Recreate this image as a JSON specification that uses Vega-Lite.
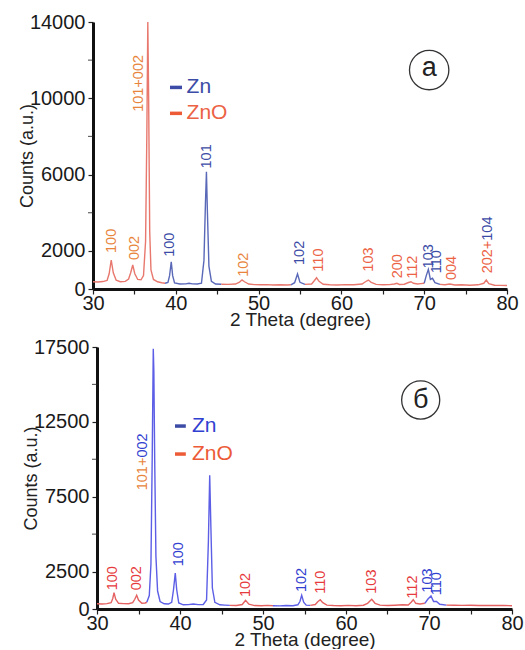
{
  "$schema": "https://vega.github.io/schema/vega-lite/v6.json",
  "padding": {"left": 18, "top": 12, "right": 0, "bottom": 0},
  "spacing": 8,
  "background": "white",
  "config": {
    "font": "Liberation Sans",
    "view": {"stroke": null},
    "axis": {"grid": false, "domainColor": "#111", "domainWidth": 3, "tickColor": "#222", "tickWidth": 1.2, "tickSize": 5,
      "labelFontSize": 20, "labelColor": "#1a1a1a", "labelFont": "Liberation Sans", "titleFont": "Liberation Sans",
      "titleFontSize": 19, "titleFontWeight": "normal", "titleColor": "#222", "labelFlush": false},
    "axisX": {"labelPadding": -1, "titlePadding": -3},
    "axisY": {"labelPadding": 3, "titlePadding": -7, "titleFontSize": 18}
  },
  "datasets": {
    "specA": [
      {"x":30.0,"y":380,"seg":"a1","ph":"ZnO"},{"x":30.6,"y":370,"seg":"a1","ph":"ZnO"},{"x":31.2,"y":390,"seg":"a1","ph":"ZnO"},
      {"x":31.7,"y":450,"seg":"a1","ph":"ZnO"},{"x":31.95,"y":800,"seg":"a1","ph":"ZnO"},{"x":32.2,"y":1520,"seg":"a1","ph":"ZnO"},
      {"x":32.45,"y":850,"seg":"a1","ph":"ZnO"},{"x":32.8,"y":460,"seg":"a1","ph":"ZnO"},{"x":33.3,"y":380,"seg":"a1","ph":"ZnO"},
      {"x":33.9,"y":400,"seg":"a1","ph":"ZnO"},{"x":34.3,"y":520,"seg":"a1","ph":"ZnO"},{"x":34.55,"y":850,"seg":"a1","ph":"ZnO"},
      {"x":34.8,"y":1260,"seg":"a1","ph":"ZnO"},{"x":35.05,"y":800,"seg":"a1","ph":"ZnO"},{"x":35.4,"y":500,"seg":"a1","ph":"ZnO"},
      {"x":35.8,"y":480,"seg":"a1","ph":"ZnO"},{"x":36.1,"y":700,"seg":"a1","ph":"ZnO"},{"x":36.35,"y":2500,"seg":"a1","ph":"ZnO"},
      {"x":36.5,"y":8000,"seg":"a1","ph":"ZnO"},{"x":36.62,"y":14000,"seg":"a1","ph":"ZnO"},{"x":36.72,"y":10000,"seg":"a1","ph":"ZnO"},
      {"x":36.85,"y":3000,"seg":"a1","ph":"ZnO"},{"x":37.0,"y":1000,"seg":"a1","ph":"ZnO"},{"x":37.3,"y":500,"seg":"a1","ph":"ZnO"},
      {"x":37.8,"y":380,"seg":"a1","ph":"ZnO"},{"x":38.3,"y":330,"seg":"a1","ph":"ZnO"},{"x":38.7,"y":300,"seg":"a1","ph":"ZnO"},
      {"x":38.7,"y":300,"seg":"a2","ph":"Zn"},{"x":39.05,"y":340,"seg":"a2","ph":"Zn"},{"x":39.25,"y":700,"seg":"a2","ph":"Zn"},
      {"x":39.45,"y":1430,"seg":"a2","ph":"Zn"},{"x":39.62,"y":700,"seg":"a2","ph":"Zn"},{"x":39.85,"y":320,"seg":"a2","ph":"Zn"},
      {"x":40.5,"y":260,"seg":"a2","ph":"Zn"},{"x":41.2,"y":270,"seg":"a2","ph":"Zn"},{"x":41.6,"y":300,"seg":"a2","ph":"Zn"},
      {"x":42.0,"y":270,"seg":"a2","ph":"Zn"},{"x":42.6,"y":260,"seg":"a2","ph":"Zn"},{"x":43.1,"y":300,"seg":"a2","ph":"Zn"},
      {"x":43.4,"y":1500,"seg":"a2","ph":"Zn"},{"x":43.58,"y":4500,"seg":"a2","ph":"Zn"},{"x":43.7,"y":6150,"seg":"a2","ph":"Zn"},
      {"x":43.82,"y":4000,"seg":"a2","ph":"Zn"},{"x":44.0,"y":1200,"seg":"a2","ph":"Zn"},{"x":44.3,"y":400,"seg":"a2","ph":"Zn"},
      {"x":44.8,"y":260,"seg":"a2","ph":"Zn"},{"x":45.5,"y":250,"seg":"a2","ph":"Zn"},
      {"x":45.5,"y":250,"seg":"a3","ph":"ZnO"},{"x":46.3,"y":240,"seg":"a3","ph":"ZnO"},{"x":47.2,"y":260,"seg":"a3","ph":"ZnO"},
      {"x":47.7,"y":360,"seg":"a3","ph":"ZnO"},{"x":48.0,"y":480,"seg":"a3","ph":"ZnO"},{"x":48.3,"y":380,"seg":"a3","ph":"ZnO"},
      {"x":48.8,"y":260,"seg":"a3","ph":"ZnO"},{"x":49.5,"y":230,"seg":"a3","ph":"ZnO"},{"x":50.2,"y":220,"seg":"a3","ph":"ZnO"},
      {"x":51.0,"y":230,"seg":"a3","ph":"ZnO"},{"x":51.8,"y":210,"seg":"a3","ph":"ZnO"},{"x":52.6,"y":220,"seg":"a3","ph":"ZnO"},
      {"x":53.4,"y":210,"seg":"a3","ph":"ZnO"},{"x":53.9,"y":220,"seg":"a3","ph":"ZnO"},
      {"x":53.9,"y":220,"seg":"a4","ph":"Zn"},{"x":54.35,"y":330,"seg":"a4","ph":"Zn"},{"x":54.7,"y":790,"seg":"a4","ph":"Zn"},
      {"x":55.0,"y":350,"seg":"a4","ph":"Zn"},{"x":55.6,"y":240,"seg":"a4","ph":"Zn"},
      {"x":55.6,"y":240,"seg":"a5","ph":"ZnO"},{"x":56.4,"y":260,"seg":"a5","ph":"ZnO"},{"x":56.7,"y":420,"seg":"a5","ph":"ZnO"},
      {"x":57.0,"y":590,"seg":"a5","ph":"ZnO"},{"x":57.3,"y":400,"seg":"a5","ph":"ZnO"},{"x":57.8,"y":250,"seg":"a5","ph":"ZnO"},
      {"x":58.6,"y":220,"seg":"a5","ph":"ZnO"},{"x":59.5,"y":210,"seg":"a5","ph":"ZnO"},{"x":60.5,"y":230,"seg":"a5","ph":"ZnO"},
      {"x":61.5,"y":220,"seg":"a5","ph":"ZnO"},{"x":62.5,"y":260,"seg":"a5","ph":"ZnO"},{"x":62.9,"y":380,"seg":"a5","ph":"ZnO"},
      {"x":63.25,"y":470,"seg":"a5","ph":"ZnO"},{"x":63.6,"y":350,"seg":"a5","ph":"ZnO"},{"x":64.2,"y":240,"seg":"a5","ph":"ZnO"},
      {"x":65.0,"y":220,"seg":"a5","ph":"ZnO"},{"x":65.8,"y":230,"seg":"a5","ph":"ZnO"},{"x":66.4,"y":260,"seg":"a5","ph":"ZnO"},
      {"x":66.7,"y":300,"seg":"a5","ph":"ZnO"},{"x":67.0,"y":240,"seg":"a5","ph":"ZnO"},{"x":67.6,"y":250,"seg":"a5","ph":"ZnO"},
      {"x":68.1,"y":340,"seg":"a5","ph":"ZnO"},{"x":68.4,"y":380,"seg":"a5","ph":"ZnO"},{"x":68.7,"y":300,"seg":"a5","ph":"ZnO"},
      {"x":69.2,"y":260,"seg":"a5","ph":"ZnO"},{"x":69.6,"y":280,"seg":"a5","ph":"ZnO"},{"x":70.0,"y":300,"seg":"a5","ph":"ZnO"},
      {"x":70.0,"y":300,"seg":"a6","ph":"Zn"},{"x":70.25,"y":700,"seg":"a6","ph":"Zn"},{"x":70.5,"y":1030,"seg":"a6","ph":"Zn"},
      {"x":70.75,"y":500,"seg":"a6","ph":"Zn"},{"x":71.0,"y":560,"seg":"a6","ph":"Zn"},{"x":71.3,"y":330,"seg":"a6","ph":"Zn"},
      {"x":71.9,"y":240,"seg":"a6","ph":"Zn"},
      {"x":71.9,"y":240,"seg":"a7","ph":"ZnO"},{"x":72.5,"y":220,"seg":"a7","ph":"ZnO"},{"x":73.1,"y":260,"seg":"a7","ph":"ZnO"},
      {"x":73.7,"y":210,"seg":"a7","ph":"ZnO"},{"x":74.5,"y":220,"seg":"a7","ph":"ZnO"},{"x":75.5,"y":200,"seg":"a7","ph":"ZnO"},
      {"x":76.5,"y":220,"seg":"a7","ph":"ZnO"},{"x":77.2,"y":300,"seg":"a7","ph":"ZnO"},{"x":77.5,"y":470,"seg":"a7","ph":"ZnO"},
      {"x":77.8,"y":280,"seg":"a7","ph":"ZnO"},{"x":78.5,"y":200,"seg":"a7","ph":"ZnO"},{"x":79.2,"y":190,"seg":"a7","ph":"ZnO"},
      {"x":80.0,"y":180,"seg":"a7","ph":"ZnO"}
    ],
    "specB": [
      {"x":30.0,"y":350,"seg":"b1","ph":"ZnO"},{"x":30.6,"y":330,"seg":"b1","ph":"ZnO"},{"x":31.2,"y":360,"seg":"b1","ph":"ZnO"},
      {"x":31.7,"y":420,"seg":"b1","ph":"ZnO"},{"x":31.9,"y":700,"seg":"b1","ph":"ZnO"},{"x":32.05,"y":1090,"seg":"b1","ph":"ZnO"},
      {"x":32.25,"y":650,"seg":"b1","ph":"ZnO"},{"x":32.6,"y":380,"seg":"b1","ph":"ZnO"},{"x":33.2,"y":360,"seg":"b1","ph":"ZnO"},
      {"x":33.8,"y":350,"seg":"b1","ph":"ZnO"},{"x":34.3,"y":420,"seg":"b1","ph":"ZnO"},{"x":34.55,"y":650,"seg":"b1","ph":"ZnO"},
      {"x":34.78,"y":915,"seg":"b1","ph":"ZnO"},{"x":35.0,"y":600,"seg":"b1","ph":"ZnO"},{"x":35.4,"y":380,"seg":"b1","ph":"ZnO"},
      {"x":35.8,"y":400,"seg":"b1","ph":"ZnO"},{"x":36.0,"y":450,"seg":"b1","ph":"ZnO"},
      {"x":36.0,"y":450,"seg":"b2","ph":"Zn"},{"x":36.3,"y":900,"seg":"b2","ph":"Zn"},{"x":36.5,"y":3000,"seg":"b2","ph":"Zn"},
      {"x":36.65,"y":10000,"seg":"b2","ph":"Zn"},{"x":36.78,"y":17390,"seg":"b2","ph":"Zn"},{"x":36.85,"y":15900,"seg":"b2","ph":"Zn"},
      {"x":36.95,"y":10000,"seg":"b2","ph":"Zn"},{"x":37.1,"y":3500,"seg":"b2","ph":"Zn"},{"x":37.3,"y":1200,"seg":"b2","ph":"Zn"},
      {"x":37.6,"y":500,"seg":"b2","ph":"Zn"},{"x":38.1,"y":350,"seg":"b2","ph":"Zn"},{"x":38.6,"y":330,"seg":"b2","ph":"Zn"},
      {"x":39.0,"y":450,"seg":"b2","ph":"Zn"},{"x":39.22,"y":1300,"seg":"b2","ph":"Zn"},{"x":39.43,"y":2400,"seg":"b2","ph":"Zn"},
      {"x":39.6,"y":1300,"seg":"b2","ph":"Zn"},{"x":39.85,"y":400,"seg":"b2","ph":"Zn"},{"x":40.4,"y":280,"seg":"b2","ph":"Zn"},
      {"x":41.0,"y":290,"seg":"b2","ph":"Zn"},{"x":41.6,"y":330,"seg":"b2","ph":"Zn"},{"x":42.2,"y":290,"seg":"b2","ph":"Zn"},
      {"x":42.8,"y":300,"seg":"b2","ph":"Zn"},{"x":43.2,"y":600,"seg":"b2","ph":"Zn"},{"x":43.42,"y":4500,"seg":"b2","ph":"Zn"},
      {"x":43.58,"y":8930,"seg":"b2","ph":"Zn"},{"x":43.72,"y":5500,"seg":"b2","ph":"Zn"},{"x":43.9,"y":1400,"seg":"b2","ph":"Zn"},
      {"x":44.2,"y":450,"seg":"b2","ph":"Zn"},{"x":44.8,"y":280,"seg":"b2","ph":"Zn"},{"x":45.4,"y":260,"seg":"b2","ph":"Zn"},
      {"x":46.0,"y":240,"seg":"b2","ph":"Zn"},
      {"x":46.0,"y":240,"seg":"b3","ph":"ZnO"},{"x":46.8,"y":230,"seg":"b3","ph":"ZnO"},{"x":47.5,"y":300,"seg":"b3","ph":"ZnO"},
      {"x":47.9,"y":580,"seg":"b3","ph":"ZnO"},{"x":48.3,"y":320,"seg":"b3","ph":"ZnO"},{"x":49.0,"y":230,"seg":"b3","ph":"ZnO"},
      {"x":49.8,"y":220,"seg":"b3","ph":"ZnO"},{"x":50.5,"y":240,"seg":"b3","ph":"ZnO"},{"x":51.2,"y":220,"seg":"b3","ph":"ZnO"},
      {"x":51.2,"y":220,"seg":"b4","ph":"Zn"},{"x":52.0,"y":210,"seg":"b4","ph":"Zn"},{"x":52.8,"y":230,"seg":"b4","ph":"Zn"},
      {"x":53.6,"y":220,"seg":"b4","ph":"Zn"},{"x":54.2,"y":280,"seg":"b4","ph":"Zn"},{"x":54.45,"y":500,"seg":"b4","ph":"Zn"},
      {"x":54.66,"y":915,"seg":"b4","ph":"Zn"},{"x":54.9,"y":450,"seg":"b4","ph":"Zn"},{"x":55.2,"y":260,"seg":"b4","ph":"Zn"},
      {"x":55.7,"y":240,"seg":"b4","ph":"Zn"},
      {"x":55.7,"y":240,"seg":"b5","ph":"ZnO"},{"x":56.3,"y":300,"seg":"b5","ph":"ZnO"},{"x":56.6,"y":480,"seg":"b5","ph":"ZnO"},
      {"x":56.9,"y":620,"seg":"b5","ph":"ZnO"},{"x":57.2,"y":420,"seg":"b5","ph":"ZnO"},{"x":57.7,"y":260,"seg":"b5","ph":"ZnO"},
      {"x":58.5,"y":230,"seg":"b5","ph":"ZnO"},{"x":59.4,"y":220,"seg":"b5","ph":"ZnO"},{"x":60.3,"y":240,"seg":"b5","ph":"ZnO"},
      {"x":61.2,"y":220,"seg":"b5","ph":"ZnO"},{"x":62.1,"y":250,"seg":"b5","ph":"ZnO"},{"x":62.6,"y":380,"seg":"b5","ph":"ZnO"},
      {"x":63.1,"y":650,"seg":"b5","ph":"ZnO"},{"x":63.5,"y":380,"seg":"b5","ph":"ZnO"},{"x":64.1,"y":260,"seg":"b5","ph":"ZnO"},
      {"x":65.0,"y":230,"seg":"b5","ph":"ZnO"},{"x":65.9,"y":250,"seg":"b5","ph":"ZnO"},{"x":66.8,"y":280,"seg":"b5","ph":"ZnO"},
      {"x":67.5,"y":270,"seg":"b5","ph":"ZnO"},{"x":67.85,"y":450,"seg":"b5","ph":"ZnO"},{"x":68.1,"y":620,"seg":"b5","ph":"ZnO"},
      {"x":68.4,"y":380,"seg":"b5","ph":"ZnO"},{"x":68.9,"y":330,"seg":"b5","ph":"ZnO"},{"x":69.5,"y":380,"seg":"b5","ph":"ZnO"},
      {"x":69.5,"y":380,"seg":"b6","ph":"Zn"},{"x":69.85,"y":650,"seg":"b6","ph":"Zn"},{"x":70.24,"y":870,"seg":"b6","ph":"Zn"},
      {"x":70.55,"y":500,"seg":"b6","ph":"Zn"},{"x":70.9,"y":510,"seg":"b6","ph":"Zn"},{"x":71.3,"y":320,"seg":"b6","ph":"Zn"},
      {"x":72.1,"y":260,"seg":"b6","ph":"Zn"},
      {"x":72.1,"y":260,"seg":"b7","ph":"ZnO"},{"x":73.0,"y":250,"seg":"b7","ph":"ZnO"},{"x":74.0,"y":240,"seg":"b7","ph":"ZnO"},
      {"x":75.0,"y":250,"seg":"b7","ph":"ZnO"},{"x":76.0,"y":230,"seg":"b7","ph":"ZnO"},{"x":77.0,"y":240,"seg":"b7","ph":"ZnO"},
      {"x":78.0,"y":230,"seg":"b7","ph":"ZnO"},{"x":79.0,"y":230,"seg":"b7","ph":"ZnO"},{"x":80.0,"y":220,"seg":"b7","ph":"ZnO"}
    ],
    "labA": [
      {"x":32.25,"y":1890,"t":"100","ph":"ZnO"},
      {"x":35.07,"y":1520,"t":"002","ph":"ZnO"},
      {"x":35.5,"y":9290,"t":"101+002","ph":"ZnO"},
      {"x":39.3,"y":1690,"t":"100","ph":"Zn"},
      {"x":43.75,"y":6320,"t":"101","ph":"Zn"},
      {"x":48.2,"y":640,"t":"102","ph":"ZnO"},
      {"x":55.0,"y":1260,"t":"102","ph":"Zn"},
      {"x":57.25,"y":910,"t":"110","ph":"ZnOr"},
      {"x":63.35,"y":910,"t":"103","ph":"ZnOr"},
      {"x":66.8,"y":560,"t":"200","ph":"ZnOr"},
      {"x":68.6,"y":540,"t":"112","ph":"ZnOr"},
      {"x":70.6,"y":1080,"t":"103","ph":"Zn"},
      {"x":71.6,"y":820,"t":"110","ph":"Zn"},
      {"x":73.4,"y":470,"t":"004","ph":"ZnOr"},
      {"x":77.7,"y":820,"t":"202+","ph":"ZnOr"},
      {"x":77.7,"y":2530,"t":"104","ph":"Zn"}
    ],
    "labB": [
      {"x":31.97,"y":1250,"t":"100","ph":"ZnO"},
      {"x":34.86,"y":1250,"t":"002","ph":"ZnO"},
      {"x":35.5,"y":7930,"t":"101+","ph":"ZnOo"},
      {"x":35.5,"y":10115,"t":"002","ph":"Zn"},
      {"x":39.85,"y":2850,"t":"100","ph":"Zn"},
      {"x":47.9,"y":800,"t":"102","ph":"ZnO"},
      {"x":54.66,"y":1135,"t":"102","ph":"Zn"},
      {"x":56.95,"y":1020,"t":"110","ph":"ZnO"},
      {"x":63.1,"y":1020,"t":"103","ph":"ZnO"},
      {"x":68.1,"y":690,"t":"112","ph":"ZnO"},
      {"x":69.84,"y":1090,"t":"103","ph":"Zn"},
      {"x":71.0,"y":915,"t":"110","ph":"Zn"}
    ],
    "legA": [
      {"x":39.3,"xe":40.75,"xt":41.3,"y":10570,"t":"Zn","ph":"Zn","pd":"Znd"},
      {"x":39.3,"xe":40.75,"xt":41.3,"y":9210,"t":"ZnO","ph":"ZnOr","pd":"ZnOd"}
    ],
    "legB": [
      {"x":39.4,"xe":40.7,"xt":41.45,"y":12220,"t":"Zn","ph":"Zn","pd":"Znd"},
      {"x":39.4,"xe":40.7,"xt":41.45,"y":10350,"t":"ZnO","ph":"ZnOr","pd":"ZnOd"}
    ],
    "minA": [{"y":4000},{"y":8000},{"y":12000}],
    "minB": [{"y":5000},{"y":10000},{"y":15000}],
    "circA": [{"x":70.6,"y":11480,"t":"a"}],
    "circB": [{"x":69.0,"y":13960,"t":"б"}]
  },
  "vconcat": [
    {
      "width": 414,
      "height": 267,
      "layer": [
        {
          "data": {"name": "specA"},
          "mark": {"type": "line", "strokeWidth": 1.4},
          "encoding": {
            "x": {"field": "x", "type": "quantitative", "scale": {"domain": [30, 80], "nice": false, "zero": false},
              "axis": {"title": "2 Theta (degree)", "values": [30,35,40,45,50,55,60,65,70,75,80], "labelExpr": "datum.value % 10 == 0 ? datum.label : ''"}},
            "y": {"field": "y", "type": "quantitative", "scale": {"domain": [0, 14000], "nice": false},
              "axis": {"title": "Counts (a.u.)", "format": "d", "values": [0,2000,6000,10000,14000]}},
            "detail": {"field": "seg", "type": "nominal"},
            "stroke": {"field": "ph", "type": "nominal", "legend": null,
              "scale": {"domain": ["Zn", "ZnO", "Znd", "ZnOd"], "range": ["#5a68b8", "#e8786e", "#3c4ca6", "#ec5a36"]}}
          }
        },
        {
          "data": {"name": "minA"},
          "mark": {"type": "tick", "orient": "horizontal", "size": 5, "thickness": 1.2, "color": "#222", "xOffset": -2.5},
          "encoding": {
            "x": {"datum": 30, "type": "quantitative"},
            "y": {"field": "y", "type": "quantitative"}
          }
        },
        {
          "data": {"name": "legA"},
          "mark": {"type": "rule", "strokeWidth": 3.5},
          "encoding": {
            "x": {"field": "x", "type": "quantitative"},
            "x2": {"field": "xe"},
            "y": {"field": "y", "type": "quantitative"},
            "stroke": {"field": "pd", "type": "nominal", "legend": null}
          }
        },
        {
          "data": {"name": "labA"},
          "mark": {"type": "text", "angle": 270, "align": "left", "baseline": "middle", "fontSize": 14.5, "font": "Liberation Sans"},
          "encoding": {
            "x": {"field": "x", "type": "quantitative"},
            "y": {"field": "y", "type": "quantitative"},
            "text": {"field": "t"},
            "fill": {"field": "ph", "type": "nominal", "legend": null,
              "scale": {"domain": ["Zn", "ZnO", "ZnOr", "ZnOo"], "range": ["#3c4ca6", "#e8843c", "#ec6244", "#e8843c"]}}
          }
        },
        {
          "data": {"name": "legA"},
          "mark": {"type": "text", "align": "left", "baseline": "middle", "fontSize": 21, "font": "Liberation Sans"},
          "encoding": {
            "x": {"field": "xt", "type": "quantitative"},
            "y": {"field": "y", "type": "quantitative"},
            "text": {"field": "t"},
            "fill": {"field": "ph", "type": "nominal", "legend": null}
          }
        },
        {
          "data": {"name": "circA"},
          "mark": {"type": "point", "shape": "circle", "size": 1550, "filled": false, "stroke": "#333", "strokeWidth": 1.3, "opacity": 1},
          "encoding": {
            "x": {"field": "x", "type": "quantitative"},
            "y": {"field": "y", "type": "quantitative"}
          }
        },
        {
          "data": {"name": "circA"},
          "mark": {"type": "text", "align": "center", "baseline": "middle", "fontSize": 27, "font": "Liberation Sans", "color": "#222", "dy": -2},
          "encoding": {
            "x": {"field": "x", "type": "quantitative"},
            "y": {"field": "y", "type": "quantitative"},
            "text": {"field": "t"}
          }
        }
      ]
    },
    {
      "width": 419,
      "height": 262,
      "layer": [
        {
          "data": {"name": "specB"},
          "mark": {"type": "line", "strokeWidth": 1.4},
          "encoding": {
            "x": {"field": "x", "type": "quantitative", "scale": {"domain": [30, 80], "nice": false, "zero": false, "range": [4, 419]},
              "axis": {"title": "2 Theta (degree)", "values": [30,35,40,45,50,55,60,65,70,75,80], "labelExpr": "datum.value % 10 == 0 ? datum.label : ''"}},
            "y": {"field": "y", "type": "quantitative", "scale": {"domain": [0, 17500], "nice": false},
              "axis": {"title": "Counts (a.u.)", "format": "d", "offset": -4, "values": [0,2500,7500,12500,17500]}},
            "detail": {"field": "seg", "type": "nominal"},
            "stroke": {"field": "ph", "type": "nominal", "legend": null,
              "scale": {"domain": ["Zn", "ZnO", "Znd", "ZnOd"], "range": ["#5c5ee6", "#e46262", "#3c4ca6", "#ec5a36"]}}
          }
        },
        {
          "data": {"name": "minB"},
          "mark": {"type": "tick", "orient": "horizontal", "size": 5, "thickness": 1.2, "color": "#222", "xOffset": -2.5},
          "encoding": {
            "x": {"datum": 30, "type": "quantitative"},
            "y": {"field": "y", "type": "quantitative"}
          }
        },
        {
          "data": {"name": "legB"},
          "mark": {"type": "rule", "strokeWidth": 3.5},
          "encoding": {
            "x": {"field": "x", "type": "quantitative"},
            "x2": {"field": "xe"},
            "y": {"field": "y", "type": "quantitative"},
            "stroke": {"field": "pd", "type": "nominal", "legend": null}
          }
        },
        {
          "data": {"name": "labB"},
          "mark": {"type": "text", "angle": 270, "align": "left", "baseline": "middle", "fontSize": 14.5, "font": "Liberation Sans"},
          "encoding": {
            "x": {"field": "x", "type": "quantitative"},
            "y": {"field": "y", "type": "quantitative"},
            "text": {"field": "t"},
            "fill": {"field": "ph", "type": "nominal", "legend": null,
              "scale": {"domain": ["Zn", "ZnO", "ZnOr", "ZnOo"], "range": ["#3040d0", "#e63a3c", "#ec5a36", "#e8843c"]}}
          }
        },
        {
          "data": {"name": "legB"},
          "mark": {"type": "text", "align": "left", "baseline": "middle", "fontSize": 21, "font": "Liberation Sans"},
          "encoding": {
            "x": {"field": "xt", "type": "quantitative"},
            "y": {"field": "y", "type": "quantitative"},
            "text": {"field": "t"},
            "fill": {"field": "ph", "type": "nominal", "legend": null}
          }
        },
        {
          "data": {"name": "circB"},
          "mark": {"type": "point", "shape": "circle", "size": 1450, "filled": false, "stroke": "#333", "strokeWidth": 1.3, "opacity": 1},
          "encoding": {
            "x": {"field": "x", "type": "quantitative"},
            "y": {"field": "y", "type": "quantitative"}
          }
        },
        {
          "data": {"name": "circB"},
          "mark": {"type": "text", "align": "center", "baseline": "middle", "fontSize": 27, "font": "Liberation Sans", "color": "#222"},
          "encoding": {
            "x": {"field": "x", "type": "quantitative"},
            "y": {"field": "y", "type": "quantitative"},
            "text": {"field": "t"}
          }
        }
      ]
    }
  ],
  "resolve": {"scale": {"x": "independent", "y": "independent", "stroke": "independent", "fill": "independent"}}
}
